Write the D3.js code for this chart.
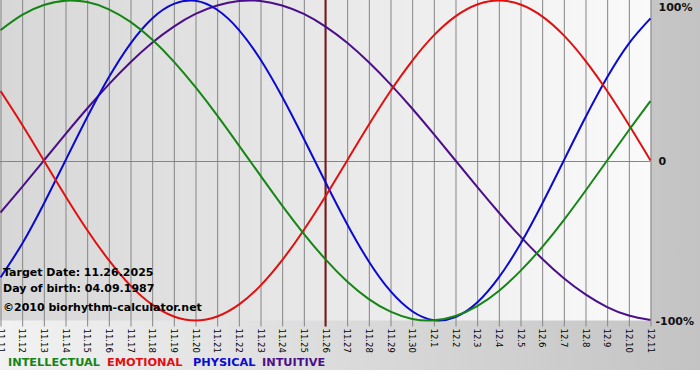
<!DOCTYPE html>
<html>
<head>
<meta charset="utf-8">
<script src="https://cdn.jsdelivr.net/npm/d3@7"></script>
<style>
  html, body { margin: 0; padding: 0; background: #fff; }
  svg { display: block; }
</style>
</head>
<body>
<svg id="chart" width="700" height="380"></svg>
<script>
// ---- data ----
const dates = ["11.11","11.12","11.13","11.14","11.15","11.16","11.17","11.18","11.19","11.20",
  "11.21","11.22","11.23","11.24","11.25","11.26","11.27","11.28","11.29","11.30",
  "12.1","12.2","12.3","12.4","12.5","12.6","12.7","12.8","12.9","12.10","12.11"];
const intellectual = [0.815,0.910,0.972,0.999,0.990,0.945,0.866,0.756,0.618,0.458,
  0.282,0.095,-0.095,-0.282,-0.458,-0.618,-0.756,-0.866,-0.945,-0.990,
  -0.999,-0.972,-0.910,-0.815,-0.690,-0.541,-0.372,-0.189,0,0.189,0.372];
const emotional = [0.434,0.223,0,-0.223,-0.434,-0.623,-0.782,-0.901,-0.975,-1,
  -0.975,-0.901,-0.782,-0.623,-0.434,-0.223,0,0.223,0.434,0.623,
  0.782,0.901,0.975,1,0.975,0.901,0.782,0.623,0.434,0.223,0];
const physical = [-0.731,-0.520,-0.270,0,0.270,0.520,0.731,0.888,0.979,0.998,
  0.942,0.817,0.631,0.398,0.136,-0.136,-0.398,-0.631,-0.817,-0.942,
  -0.998,-0.979,-0.888,-0.731,-0.520,-0.270,0,0.270,0.520,0.731,0.888];
const intuitive = [-0.325,-0.165,0,0.165,0.325,0.476,0.614,0.736,0.837,0.916,
  0.969,0.997,0.997,0.969,0.916,0.837,0.736,0.614,0.476,0.325,
  0.165,0,-0.165,-0.325,-0.476,-0.614,-0.736,-0.837,-0.916,-0.969,-0.997];
const seriesNames = ["INTELLECTUAL","EMOTIONAL","PHYSICAL","INTUITIVE"];
const yTickValues = [1, 0, -1];
const yTickLabels = ["100%", "0", "-100%"];
const targetIndex = 15;
const infoLines = ["Target Date: 11.26.2025", "Day of birth: 04.09.1987", "\u00A92010 biorhythm-calculator.net"];

// ---- drawing ----
const svg = d3.select("#chart");
const W = 700;
const plot = { left: 0.5, right: 650.5, top: 0.5, bottom: 320.5 };

const defs = svg.append("defs");
const gOuter = defs.append("linearGradient").attr("id", "outerGrad").attr("x1", "0").attr("x2", "1").attr("y1", "0").attr("y2", "0");
gOuter.append("stop").attr("offset", "0").attr("stop-color", "#f2f2f2");
gOuter.append("stop").attr("offset", "1").attr("stop-color", "#c3c3c3");
const gPlot = defs.append("linearGradient").attr("id", "plotGrad").attr("x1", "0").attr("x2", "1").attr("y1", "0").attr("y2", "0");
gPlot.append("stop").attr("offset", "0").attr("stop-color", "#d7d7d7");
gPlot.append("stop").attr("offset", "1").attr("stop-color", "#fafafa");

svg.append("rect").attr("x", 0).attr("y", 0).attr("width", W).attr("height", 370).attr("fill", "url(#outerGrad)");

const x = d3.scaleLinear().domain([0, dates.length - 1]).range([plot.left, plot.right]);
const y = d3.scaleLinear().domain([-1, 1]).range([plot.bottom, plot.top]);

svg.append("rect").attr("x", 0).attr("y", 0).attr("width", plot.right).attr("height", plot.bottom)
  .attr("fill", "url(#plotGrad)");

// vertical grid + ticks + rotated labels via axis
const xAxis = d3.axisBottom(x)
  .tickValues(d3.range(dates.length))
  .tickFormat(i => dates[i])
  .tickSizeInner(plot.bottom + 6)
  .tickSizeOuter(0)
  .tickPadding(0);
const ax = svg.append("g").attr("transform", "translate(0,0)").call(xAxis);
ax.select(".domain").remove();
ax.selectAll(".tick line").attr("stroke", "#858585").attr("stroke-width", 1);
ax.selectAll(".tick text")
  .attr("font-family", "DejaVu Sans, Verdana, sans-serif")
  .attr("font-size", "8.5px")
  .attr("fill", "#000")
  .attr("text-anchor", "start")
  .attr("dy", null)
  .attr("y", 0)
  .attr("transform", `translate(-3.5,${plot.bottom + 8}) rotate(90)`);

// zero line
svg.append("line").attr("x1", 0).attr("x2", plot.right).attr("y1", Math.round(y(0)) + 0.5).attr("y2", Math.round(y(0)) + 0.5)
  .attr("stroke", "#858585").attr("stroke-width", 1);

// target line
svg.append("line").attr("x1", x(targetIndex)).attr("x2", x(targetIndex)).attr("y1", 0).attr("y2", plot.bottom + 6)
  .attr("stroke", "#7a1a1a").attr("stroke-width", 2);

// curves
const line = d3.line().x((d, i) => x(i)).y(d => y(d)).curve(d3.curveNatural);
const series = [
  { vals: intuitive, color: "#4b0f8a" },
  { vals: physical, color: "#0a0ad0" },
  { vals: emotional, color: "#e01010" },
  { vals: intellectual, color: "#158515" }
];
series.forEach(s => {
  svg.append("path").attr("d", line(s.vals)).attr("fill", "none")
    .attr("stroke", s.color).attr("stroke-width", 2);
});

// y labels on right
const yAxis = d3.axisRight(y).tickValues(yTickValues).tickFormat((d, i) => yTickLabels[i]).tickSize(0).tickPadding(0);
const ay = svg.append("g").attr("transform", `translate(${plot.right},0)`).call(yAxis);
ay.select(".domain").remove();
ay.selectAll(".tick text")
  .attr("font-family", "DejaVu Sans, Verdana, sans-serif")
  .attr("font-weight", "bold")
  .attr("font-size", "11px")
  .attr("fill", "#111")
  .attr("x", (d) => d === -1 ? 5 : 8)
  .attr("dy", (d) => d === 1 ? "0.9em" : "0.35em");

// info text
const infoY = [276, 292, 311];
infoLines.forEach((t, i) => {
  svg.append("text").attr("x", 3).attr("y", infoY[i]).text(t)
    .attr("font-family", "DejaVu Sans, Verdana, sans-serif")
    .attr("font-weight", "bold").attr("font-size", "11px").attr("fill", "#000");
});

// legend
const legendX = [8, 107, 193, 262];
const legendColors = ["#158515", "#e01010", "#0a0ad0", "#4b0f8a"];
seriesNames.forEach((n, i) => {
  svg.append("text").attr("x", legendX[i]).attr("y", 366).text(n)
    .attr("font-family", "DejaVu Sans, Verdana, sans-serif")
    .attr("font-weight", "bold").attr("font-size", "11.3px").attr("fill", legendColors[i]);
});
</script>
</body>
</html>
